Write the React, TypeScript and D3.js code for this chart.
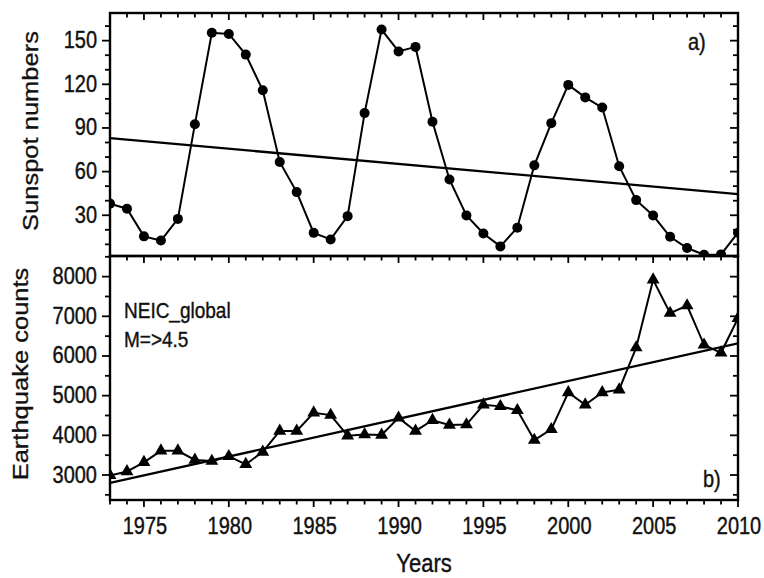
import React from "react";
import * as d3 from "d3";

const years = d3.range(1973, 2011);
const sunspots = [38.0, 34.5, 15.5, 12.6, 27.5, 92.5, 155.4, 154.6, 140.4, 115.9, 66.6, 45.9, 17.9, 13.4, 29.4, 100.2, 157.6, 142.6, 145.7, 94.3, 54.6, 29.9, 17.5, 8.6, 21.5, 64.3, 93.3, 119.6, 111.0, 104.0, 63.7, 40.4, 29.8, 15.2, 7.5, 2.9, 3.1, 18.0];
const quakes = [2990, 3090, 3320, 3610, 3610, 3380, 3350, 3470, 3270, 3580, 4110, 4110, 4570, 4510, 3990, 4020, 4010, 4440, 4110, 4380, 4260, 4270, 4770, 4730, 4630, 3880, 4150, 5080, 4770, 5080, 5150, 6210, 7920, 7080, 7270, 6280, 6080, 6950];
const sunTrend = [83, 44.5];
const quakeTrend = [2800, 6320];
const sunTicks = [30, 60, 90, 120, 150];
const quakeTicks = [3000, 4000, 5000, 6000, 7000, 8000];
const yearTicks = [1975, 1980, 1985, 1990, 1995, 2000, 2005, 2010];

const FONT = "'Liberation Sans', Arial, Helvetica, sans-serif";
const SY = 1.16;

export default function App() {
  const L = 110, R = 738;
  const T1 = 13, B1 = 256, T2 = 256, B2 = 500;
  const x = d3.scaleLinear().domain([1973, 2010]).range([L, R]);
  const y1 = d3.scaleLinear().domain([2, 169]).range([B1, T1]);
  const y2 = d3.scaleLinear().domain([2370, 8520]).range([B2, T2]);

  const line1 = d3.line<number>().x((_, i) => x(years[i])).y((d) => y1(d));
  const line2 = d3.line<number>().x((_, i) => x(years[i])).y((d) => y2(d));
  const tri = d3.symbol().type(d3.symbolTriangle).size(72)();

  const minorYears = d3.range(1973, 2011);
  const minor1 = d3.range(10, 170, 10);
  const minor2 = d3.range(2500, 8501, 500);

  const hText = (tx: number, ty: number, s: string, size: number, anchor: string, key?: any) => (
    <text key={key} transform={`translate(${tx},${ty}) scale(1,${SY})`} fontSize={size} textAnchor={anchor} fontFamily={FONT} fill="#111" stroke="#111" strokeWidth={0.35}>{s}</text>
  );
  const vText = (tx: number, ty: number, s: string, size: number) => (
    <text transform={`translate(${tx},${ty}) rotate(-90) scale(${SY},1)`} fontSize={size} textAnchor="middle" fontFamily={FONT} fill="#111" stroke="#111" strokeWidth={0.3}>{s}</text>
  );

  return (
    <svg width={764} height={578} style={{ position: "absolute", left: 0, top: 0, background: "#fff" }}>
      <defs>
        <clipPath id="c1"><rect x={L} y={T1} width={R - L} height={B1 - T1} /></clipPath>
        <clipPath id="c2"><rect x={L} y={T2} width={R - L} height={B2 - T2} /></clipPath>
      </defs>
      <rect width={764} height={578} fill="#fff" />

      {/* Panel a */}
      <g clipPath="url(#c1)">
        <line x1={x(1973)} x2={x(2010)} y1={y1(sunTrend[0])} y2={y1(sunTrend[1])} stroke="#000" strokeWidth={2.3} />
        <path d={line1(sunspots) || ""} fill="none" stroke="#000" strokeWidth={2} />
        {sunspots.map((v, i) => (
          <circle key={i} cx={x(years[i])} cy={y1(v)} r={5} fill="#000" />
        ))}
      </g>
      {/* Panel b */}
      <g clipPath="url(#c2)">
        <line x1={x(1973)} x2={x(2010)} y1={y2(quakeTrend[0])} y2={y2(quakeTrend[1])} stroke="#000" strokeWidth={2.3} />
        <path d={line2(quakes) || ""} fill="none" stroke="#000" strokeWidth={2} />
        {quakes.map((v, i) => (
          <path key={i} d={tri || ""} transform={`translate(${x(years[i])},${y2(v)})`} fill="#000" />
        ))}
      </g>

      {/* ticks */}
      <g stroke="#000" strokeWidth={1.8}>
        {minorYears.map((yr) => {
          const major = yr % 5 === 0;
          const len = major ? 7 : 4.5;
          return (
            <g key={yr}>
              <line x1={x(yr)} x2={x(yr)} y1={T1} y2={T1 + len} />
              <line x1={x(yr)} x2={x(yr)} y1={T2} y2={T2 + len} />
              <line x1={x(yr)} x2={x(yr)} y1={B2} y2={B2 + len} />
            </g>
          );
        })}
        {minor1.map((v) => {
          const major = v % 30 === 0;
          const len = major ? 8 : 5;
          return (
            <g key={v}>
              <line x1={L} x2={L - len} y1={y1(v)} y2={y1(v)} />
              <line x1={R} x2={R - len} y1={y1(v)} y2={y1(v)} />
            </g>
          );
        })}
        {minor2.map((v) => {
          const major = v % 1000 === 0;
          const len = major ? 8 : 5;
          return (
            <g key={v}>
              <line x1={L} x2={L - len} y1={y2(v)} y2={y2(v)} />
              <line x1={R} x2={R - len} y1={y2(v)} y2={y2(v)} />
            </g>
          );
        })}
      </g>

      {/* frames */}
      <rect x={L} y={T1} width={R - L} height={B1 - T1} fill="none" stroke="#000" strokeWidth={2.4} />
      <rect x={L} y={T2} width={R - L} height={B2 - T2} fill="none" stroke="#000" strokeWidth={2.4} />

      {/* tick labels */}
      {sunTicks.map((v) => hText(97, y1(v) + 7.5, String(v), 20, "end", "s" + v))}
      {quakeTicks.map((v) => hText(97, y2(v) + 7.5, String(v), 20, "end", "q" + v))}
      {yearTicks.map((v) => hText(x(v) + 1, 534, String(v), 20, "middle", "y" + v))}

      {/* titles */}
      {vText(38, 131, "Sunspot numbers", 22)}
      {vText(28, 374, "Earthquake counts", 22)}
      {hText(424, 572, "Years", 22, "middle")}

      {hText(688, 50, "a)", 20, "start")}
      {hText(703, 487, "b)", 20, "start")}
      {hText(124, 318, "NEIC_global", 19, "start")}
      {hText(124, 347, "M=>4.5", 19, "start")}
    </svg>
  );
}
